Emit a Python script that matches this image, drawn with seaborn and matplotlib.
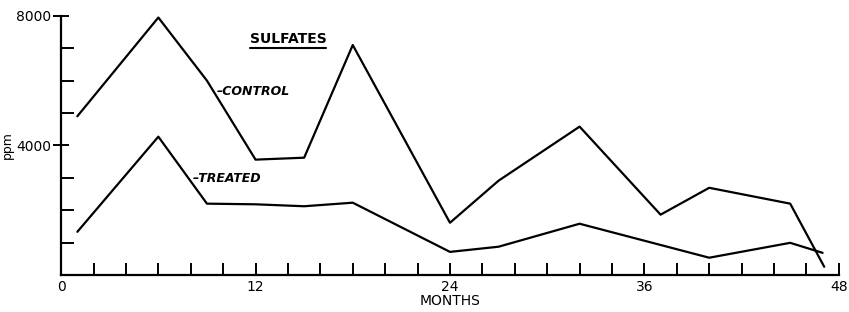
import pandas as pd
import matplotlib
matplotlib.use("Agg")
import matplotlib.pyplot as plt
import seaborn as sns
from matplotlib.ticker import MultipleLocator, FixedLocator
from matplotlib.lines import Line2D

# data
months_control = [1, 6, 9, 12, 15, 18, 24, 27, 32, 37, 40, 45, 47.1]
control = [4900, 7950, 6000, 3560, 3620, 7100, 1610, 2910, 4580, 1860, 2690, 2200, 250]
months_treated = [1, 6, 9, 12, 15, 18, 24, 27, 32, 40, 45, 47]
treated = [1330, 4270, 2200, 2180, 2120, 2230, 710, 870, 1580, 530, 990, 680]
x_labels = [0, 12, 24, 36, 48]
y_labels = [4000, 8000]

df = pd.concat([
    pd.DataFrame({"month": months_control, "ppm": control, "series": "CONTROL"}),
    pd.DataFrame({"month": months_treated, "ppm": treated, "series": "TREATED"}),
])

sns.set_style("ticks")
plt.rcParams["font.family"] = ["DejaVu Sans"]
plt.rcParams["text.color"] = "black"
plt.rcParams["axes.labelcolor"] = "black"

fig = plt.figure(figsize=(8.49, 3.12), dpi=100)
ax = fig.add_axes([0.072, 0.119, 0.916, 0.830])

sns.lineplot(data=df, x="month", y="ppm", units="series", estimator=None,
             color="black", linewidth=1.6, sort=False, ax=ax, legend=False)

ax.set_xlim(0, 48)
ax.set_ylim(0, 8000)
sns.despine(ax=ax)
for s in ["left", "bottom"]:
    ax.spines[s].set_linewidth(1.6)
    ax.spines[s].set_color("black")

ax.xaxis.set_major_locator(FixedLocator(x_labels))
ax.xaxis.set_minor_locator(MultipleLocator(2))
ax.yaxis.set_major_locator(FixedLocator(y_labels))
ax.yaxis.set_minor_locator(MultipleLocator(1000))
ax.tick_params(axis="both", which="both", direction="in", width=1.4, length=9,
               labelsize=10, colors="black")
ax.tick_params(axis="x", which="major", pad=4)
ax.tick_params(axis="y", which="major", direction="inout", length=12, pad=1)

ax.set_xlabel("MONTHS", fontsize=10, labelpad=0)
ax.set_ylabel("ppm", fontsize=9, labelpad=2)

title = ax.text(14, 7300, "SULFATES", fontsize=10, weight="bold", ha="center", va="center")
ax.text(9.6, 5670, "–CONTROL", fontsize=9, style="italic", weight="bold", va="center")
ax.text(8.15, 2970, "–TREATED", fontsize=9, style="italic", weight="bold", va="center")

# underline the title
fig.canvas.draw()
bb = title.get_window_extent().transformed(fig.transFigure.inverted())
fig.add_artist(Line2D([bb.x0, bb.x1], [bb.y0 - 0.008, bb.y0 - 0.008],
                      transform=fig.transFigure, color="black", linewidth=1.5))

fig.savefig("out.png", dpi=100)
